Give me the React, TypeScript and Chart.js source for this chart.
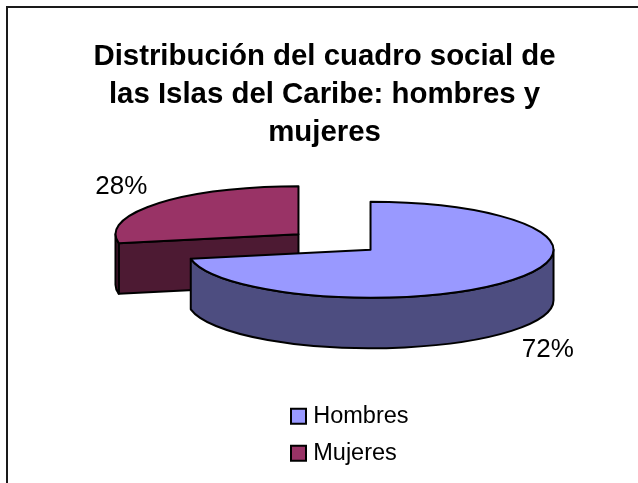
import React, { useEffect, useRef } from "react";
import { Chart, registerables } from "chart.js";

Chart.register(...registerables);

const categories = ["Hombres", "Mujeres"];
const seriesValues = [72, 28];
const titleLines = [
  "Distribución del cuadro social de",
  "las Islas del Caribe: hombres y",
  "mujeres",
];
const topColors = ["#9999FF", "#993366"];
const sideColors = ["#4D4D80", "#4D1A33"];

const FONT = "'Liberation Sans', Arial, sans-serif";
const RADIUS = 183;
const SQUASH = 0.262;
const DEPTH = 50.5;
const EXPLODE = 187;
const LABEL_RADIUS = 230;
const LABEL_SQUASH = 0.33;

const pie3d = {
  id: "pie3d",
  beforeDraw(chart: any) {
    const { ctx, width, height } = chart;
    ctx.save();
    ctx.fillStyle = "#fff";
    ctx.fillRect(0, 0, width, height);
    ctx.strokeStyle = "#1a1a1a";
    ctx.lineWidth = 2;
    ctx.beginPath();
    ctx.moveTo(7, height);
    ctx.lineTo(7, 7);
    ctx.lineTo(width, 7);
    ctx.stroke();
    ctx.restore();
  },
  afterLayout(chart: any) {
    const t = chart.titleBlock;
    t.left -= 10;
    t.right -= 10;
    const l = chart.legend;
    const w = l.right - l.left;
    l.left = 282;
    l.right = 282 + w;
    l.top = 391;
    l.bottom = 640;
  },
  beforeDatasetDraw(chart: any) {
    const { ctx } = chart;
    const arcs = chart.getDatasetMeta(0).data;
    const off = EXPLODE / 4;
    arcs.forEach((el: any) => {
      const circ = el.endAngle - el.startAngle;
      el.outerRadius = RADIUS - off * (1 - Math.sin(Math.min(Math.PI, circ)));
    });
    const cy = arcs[0].y;
    const walls = [1, 0];
    walls.forEach((i) => {
      const el = arcs[i];
      const a0 = el.startAngle;
      const a1 = el.endAngle;
      const mid = (a0 + a1) / 2;
      const cx = el.x + Math.cos(mid) * off;
      const cyy = cy + Math.sin(mid) * off * SQUASH;
      ctx.save();
      ctx.fillStyle = sideColors[i];
      ctx.strokeStyle = "#000";
      ctx.lineWidth = 2;
      ctx.lineJoin = "round";
      const radial = (a: number) => {
        const px = cx + Math.cos(a) * RADIUS;
        const py = cyy + Math.sin(a) * RADIUS * SQUASH;
        ctx.beginPath();
        ctx.moveTo(cx, cyy);
        ctx.lineTo(px, py);
        ctx.lineTo(px, py + DEPTH);
        ctx.lineTo(cx, cyy + DEPTH);
        ctx.closePath();
        ctx.fill();
        ctx.stroke();
      };
      if (Math.cos(a0) < -1e-6) radial(a0);
      if (Math.cos(a1) > 1e-6) radial(a1);
      const s = Math.max(a0, 0);
      const e = Math.min(a1, Math.PI);
      if (e > s) {
        ctx.beginPath();
        ctx.ellipse(cx, cyy, RADIUS, RADIUS * SQUASH, 0, s, e);
        ctx.ellipse(cx, cyy + DEPTH, RADIUS, RADIUS * SQUASH, 0, e, s, true);
        ctx.closePath();
        ctx.fill();
        ctx.stroke();
      }
      ctx.restore();
    });
    ctx.save();
    ctx.translate(0, cy);
    ctx.scale(1, SQUASH);
    ctx.translate(0, -cy);
  },
  afterDatasetDraw(chart: any) {
    const { ctx } = chart;
    ctx.restore();
    const arcs = chart.getDatasetMeta(0).data;
    const off = EXPLODE / 4;
    const cy = arcs[0].y;
    const total = seriesValues.reduce((a, b) => a + b, 0);
    arcs.forEach((el: any, i: number) => {
      const mid = (el.startAngle + el.endAngle) / 2;
      const cx = el.x + Math.cos(mid) * off;
      const cyy = cy + Math.sin(mid) * off * SQUASH;
      ctx.save();
      ctx.fillStyle = topColors[i];
      ctx.strokeStyle = "#000";
      ctx.lineWidth = 2;
      ctx.lineJoin = "round";
      ctx.beginPath();
      ctx.moveTo(cx, cyy);
      ctx.ellipse(cx, cyy, RADIUS, RADIUS * SQUASH, 0, el.startAngle, el.endAngle);
      ctx.closePath();
      ctx.fill();
      ctx.stroke();
      const front = Math.sin(mid) > 0;
      ctx.fillStyle = "#000";
      ctx.font = `26px ${FONT}`;
      ctx.textAlign = "center";
      ctx.textBaseline = "middle";
      ctx.fillText(
        `${Math.round((seriesValues[i] / total) * 100)}%`,
        cx + Math.cos(mid) * LABEL_RADIUS,
        cyy + Math.sin(mid) * LABEL_RADIUS * LABEL_SQUASH + (front ? DEPTH : 0) + 1
      );
      ctx.restore();
    });
  },
};

export default function App() {
  const ref = useRef<HTMLCanvasElement>(null);
  useEffect(() => {
    document.body.style.margin = "0";
    const chart = new Chart(ref.current as HTMLCanvasElement, {
      type: "pie",
      data: {
        labels: categories,
        datasets: [
          {
            data: seriesValues,
            backgroundColor: topColors,
            borderWidth: 0,
            offset: EXPLODE,
            radius: RADIUS,
            clip: false,
          } as any,
        ],
      },
      plugins: [pie3d],
      options: {
        responsive: false,
        animation: false,
        events: [],
        layout: { padding: { left: 31, bottom: 153 } },
        plugins: {
          tooltip: { enabled: false },
          title: {
            display: true,
            text: titleLines,
            color: "#000",
            font: { family: FONT, size: 29.4, weight: "bold", lineHeight: 38 / 29.4 },
            padding: { top: 38, bottom: 2 },
          },
          legend: {
            position: "chartArea",
            align: "start",
            labels: {
              color: "#000",
              font: { family: FONT, size: 23.5 },
              boxWidth: 6,
              boxHeight: 15,
              usePointStyle: true,
              padding: 13.5,
              generateLabels(c: any) {
                const base = (Chart as any).overrides.doughnut.plugins.legend.labels.generateLabels(c);
                return base.map((it: any) => ({
                  ...it,
                  pointStyle: "rect",
                  lineWidth: 2,
                  strokeStyle: "#000",
                }));
              },
            },
          },
        },
      } as any,
    });
    return () => chart.destroy();
  }, []);
  return <canvas ref={ref} width={638} height={483} style={{ display: "block" }} />;
}
